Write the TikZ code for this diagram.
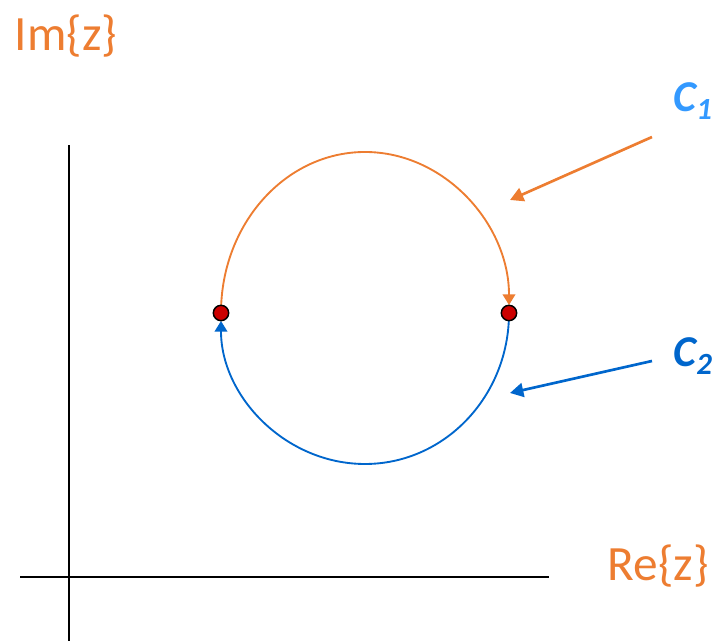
\documentclass[tikz,border=0pt]{standalone}
\usepackage{fontspec}
\setmainfont{Carlito}
\usetikzlibrary{arrows.meta,positioning,calc}
\definecolor{pathup}{HTML}{ED7D31}
\definecolor{pathdown}{HTML}{0066CC}
\definecolor{lightlbl}{HTML}{3399FF}
\definecolor{pole}{HTML}{CC0000}
\tikzset{
  axis/.style={draw=black, line width=1.1pt},
  upper/.style={draw=pathup, line width=1.4pt, -{Triangle[length=8pt, width=9.5pt]}},
  lower/.style={draw=pathdown, line width=1.4pt, -{Triangle[length=8pt, width=9.5pt]}},
  callout/.style={line width=2pt, -{Triangle[length=10pt, width=10.5pt]}},
  pointdot/.style={circle, draw=black, fill=pole, line width=1.1pt, minimum size=11.5pt, inner sep=0pt},
  axlabel/.style={text=pathup, font=\fontsize{37}{42}\selectfont, inner sep=0pt},
  pathlabel/.style={font=\fontsize{33}{38}\selectfont\bfseries\itshape, inner sep=0pt}
}

\begin{document}
\begin{tikzpicture}[x=0.75pt, y=0.75pt]
    \useasboundingbox (0,0) rectangle (725,641);
    % axes
    \coordinate (xstart) at (20,64);
    \coordinate (xend) at (549,64);
    \coordinate (ystart) at (69,0);
    \coordinate (yend) at (69,496);
    \draw[axis] (xstart) -- (xend);
    \draw[axis] (ystart) -- (yend);
    \node[axlabel] (imlbl) at (66,605) {Im\{z\}};
    \node[axlabel] (relbl) at (658,75) {Re\{z\}};
    % contour halves
    \coordinate (lft) at (221,328);
    \coordinate (rgt) at (509,328);
    \draw[upper, shorten >=6pt] (lft) arc[start angle=180, end angle=0, x radius=144, y radius=161];
    \draw[lower, shorten >=6pt] (rgt) arc[start angle=0, end angle=-180, x radius=144, y radius=151];
    \node[pointdot] (pa) at (lft) {};
    \node[pointdot] (pb) at (rgt) {};
    % labels of the two paths
    \node[pathlabel, text=lightlbl] (cone) at (693,540) {C\textsubscript{1}};
    \node[pathlabel, text=pathdown] (ctwo) at (693,285) {C\textsubscript{2}};
    \coordinate (conetail) at (652,504);
    \coordinate (conehead) at (510,441);
    \coordinate (ctwotail) at (652,280);
    \coordinate (ctwohead) at (510,248);
    \draw[callout, draw=pathup] (conetail) -- (conehead);
    \draw[callout, draw=pathdown] (ctwotail) -- (ctwohead);
  \end{tikzpicture}
\end{document}
